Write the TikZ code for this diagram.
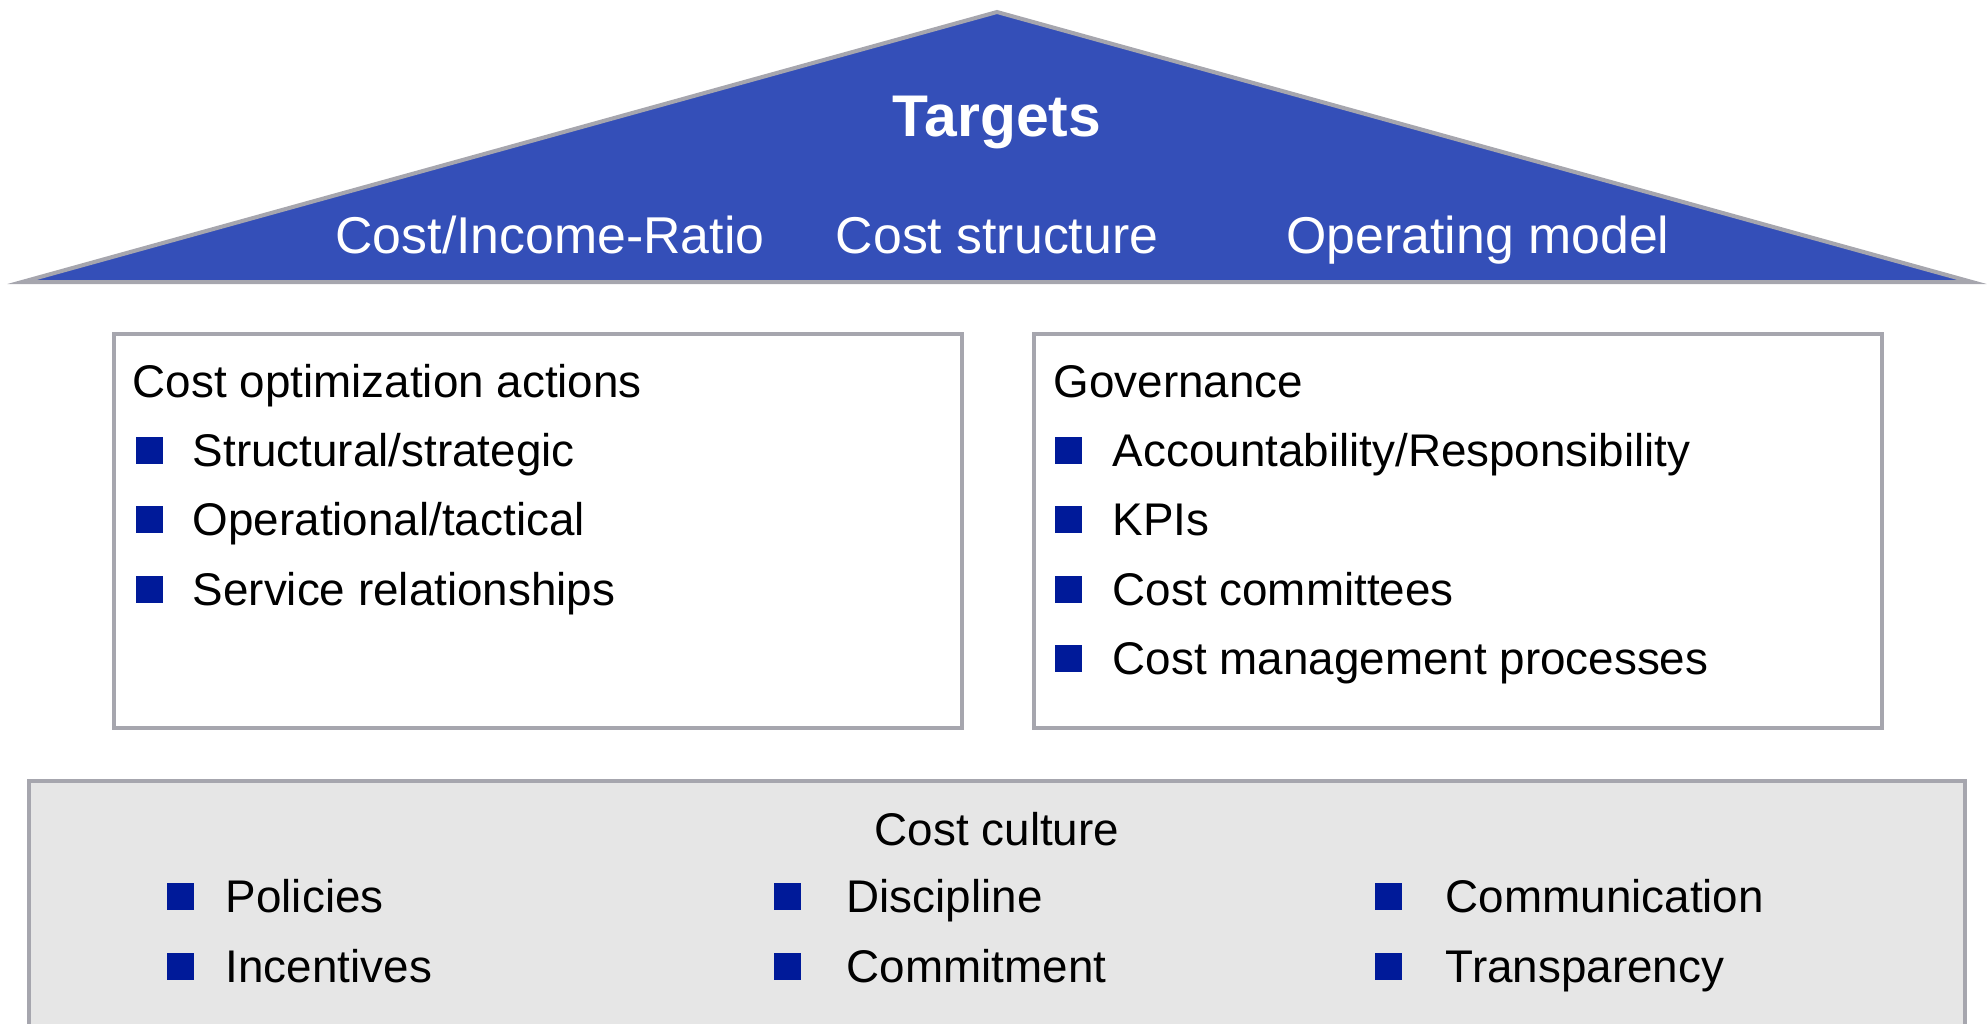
\documentclass[tikz,border=0pt]{standalone}
\usepackage{fontspec}
\setmainfont{Liberation Sans}

\definecolor{roofblue}{RGB}{52,79,184}
\definecolor{framegray}{RGB}{166,166,174}
\definecolor{bulletblue}{RGB}{0,26,153}
\definecolor{basegray}{RGB}{230,230,230}

\tikzset{every picture/.style={line width=0.75pt}}
\tikzset{
  bodytext/.style={inner sep=0pt, font=\fontsize{22.9}{27}\selectfont},
  rooftext/.style={inner sep=0pt, text=white, font=\fontsize{25.9}{30}\selectfont},
  bulletsq/.style={fill=bulletblue, draw=none, inner sep=0pt, minimum size=13.5pt},
  frame/.style={draw=framegray, line width=2pt}
}

\begin{document}
\begin{tikzpicture}[x=0.5pt,y=0.5pt,yscale=-1,xscale=1]
\useasboundingbox (0,0) rectangle (1987,1023);

%Shape: Triangle [roof]
\draw  [frame, fill=roofblue, line join=miter] (997,12) -- (1972,282) -- (22,282) -- cycle ;
%Shape: Rectangle [left pillar]
\draw  [frame, fill=white] (114,334) rectangle (962,728) ;
%Shape: Rectangle [right pillar]
\draw  [frame, fill=white] (1034,334) rectangle (1882,728) ;
%Shape: Rectangle [base]
\draw  [frame, fill=basegray] (29,781) rectangle (1965,1060) ;

% Text Node
\draw (997,136) node [anchor=base][inner sep=0pt, text=white, font=\fontsize{29.4}{34}\selectfont\bfseries] (targets) {Targets};
% Text Node
\draw (550,253) node [anchor=base][rooftext] (ratio) {Cost/Income-Ratio};
% Text Node
\draw (997,253) node [anchor=base][rooftext] (structure) {Cost structure};
% Text Node
\draw (1478,253) node [anchor=base][rooftext] (opmodel) {Operating model};

% Text Node
\draw (132,397) node [anchor=base west][bodytext] (actions) {Cost optimization actions};
\draw (149,450) node [bulletsq] (ba1) {};
\draw (192,466) node [anchor=base west][bodytext] (structural) {Structural/strategic};
\draw (149,519.5) node [bulletsq] (ba2) {};
\draw (192,535.5) node [anchor=base west][bodytext] (operational) {Operational/tactical};
\draw (149,589) node [bulletsq] (ba3) {};
\draw (192,605) node [anchor=base west][bodytext] (service) {Service relationships};

% Text Node
\draw (1053,397) node [anchor=base west][bodytext] (governance) {Governance};
\draw (1068.5,450) node [bulletsq] (bg1) {};
\draw (1112,466) node [anchor=base west][bodytext] (accountability) {Accountability/Responsibility};
\draw (1068.5,519.5) node [bulletsq] (bg2) {};
\draw (1112,535.5) node [anchor=base west][bodytext] (kpis) {KPIs};
\draw (1068.5,589) node [bulletsq] (bg3) {};
\draw (1112,605) node [anchor=base west][bodytext] (committees) {Cost committees};
\draw (1068.5,658.5) node [bulletsq] (bg4) {};
\draw (1112,674.5) node [anchor=base west][bodytext] (processes) {Cost management processes};

% Text Node
\draw (997,845) node [anchor=base][bodytext] (culture) {Cost culture};
\draw (180,896) node [bulletsq] (bc1) {};
\draw (225,912) node [anchor=base west][bodytext] (policies) {Policies};
\draw (180,966) node [bulletsq] (bc2) {};
\draw (225,982) node [anchor=base west][bodytext] (incentives) {Incentives};
\draw (787.5,896) node [bulletsq] (bc3) {};
\draw (846,912) node [anchor=base west][bodytext] (discipline) {Discipline};
\draw (787.5,966) node [bulletsq] (bc4) {};
\draw (846,982) node [anchor=base west][bodytext] (commitment) {Commitment};
\draw (1388,896) node [bulletsq] (bc5) {};
\draw (1445,912) node [anchor=base west][bodytext] (communication) {Communication};
\draw (1388,966) node [bulletsq] (bc6) {};
\draw (1445,982) node [anchor=base west][bodytext] (transparency) {Transparency};

\end{tikzpicture}
\end{document}
